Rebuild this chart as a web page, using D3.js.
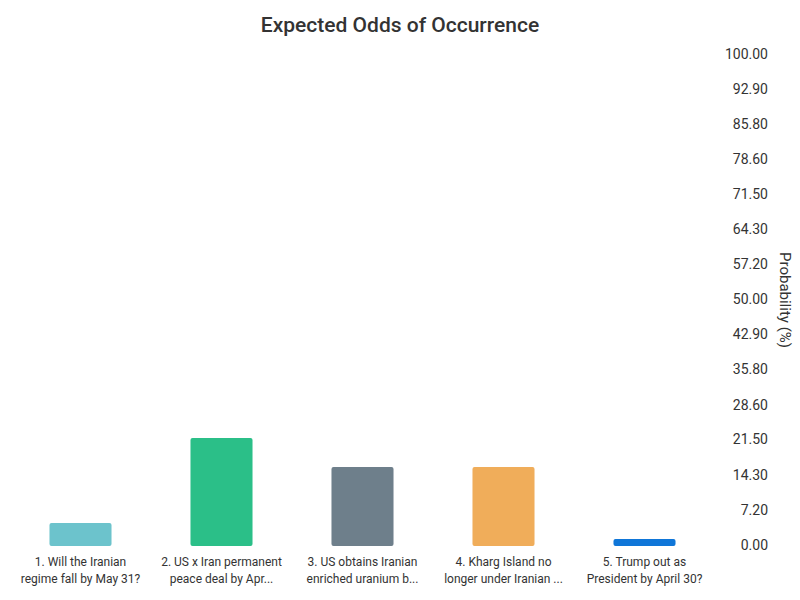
<!DOCTYPE html>
<html>
<head>
<meta charset="utf-8">
<style>
  body { margin: 0; background: #fff; font-family: Roboto, sans-serif; }
  .y .domain, .y .tick line { display: none; }
  .y .tick text { font-size: 14px; fill: #333; font-family: Roboto; }
</style>
</head>
<body>
<svg width="800" height="600"></svg>
<script src="https://d3js.org/d3.v7.min.js"></script>
<script>
const categories = [
  ["1. Will the Iranian", "regime fall by May 31?"],
  ["2. US x Iran permanent", "peace deal by Apr..."],
  ["3. US obtains Iranian", "enriched uranium b..."],
  ["4. Kharg Island no", "longer under Iranian ..."],
  ["5. Trump out as", "President by April 30?"]
];
const values = [4.5, 21.8, 15.9, 15.9, 1.2];
const colors = ["#6cc3cc", "#2bbf88", "#6e7f8b", "#f0ad5a", "#0f76d8"];
const tickValues = [0, 7.2, 14.3, 21.5, 28.6, 35.8, 42.9, 50, 57.2, 64.3, 71.5, 78.6, 85.8, 92.9, 100];

let svg = d3.select("svg");

let x = d3.scaleBand()
    .domain(d3.range(categories.length))
    .range([10, 715])
    .paddingInner(0.56)
    .paddingOuter(0.28);

let y = d3.scaleLinear()
    .domain([0, 100])
    .range([545, 54]);

svg.append("text")
    .attr("x", 400).attr("y", 32)
    .attr("text-anchor", "middle")
    .style("font-size", "21px").style("font-weight", 500).style("fill", "#333")
    .text("Expected Odds of Occurrence");

svg.selectAll(".bar")
  .data(values)
  .join("rect")
    .attr("class", "bar")
    .attr("x", (d, i) => x(i))
    .attr("width", x.bandwidth())
    .attr("y", d => y(d))
    .attr("height", d => y(0) - y(d) + 1)
    .attr("rx", 2)
    .attr("fill", (d, i) => colors[i]);

let labels = svg.selectAll(".lab")
  .data(categories)
  .join("text")
    .attr("class", "lab")
    .attr("text-anchor", "middle")
    .style("font-size", "12px").style("fill", "#333")
    .attr("transform", (d, i) => `translate(${x(i) + x.bandwidth() / 2},566)`);
labels.selectAll("tspan")
  .data(d => d)
  .join("tspan")
    .attr("x", 0)
    .attr("dy", (d, i) => i ? 17 : 0)
    .text(d => d);

svg.append("g")
    .attr("class", "y")
    .attr("transform", "translate(768,0)")
    .call(d3.axisLeft(y).tickValues(tickValues).tickSize(0).tickPadding(0).tickFormat(d3.format(".2f")));

svg.append("text")
    .attr("transform", "translate(780,300) rotate(90)")
    .attr("text-anchor", "middle")
    .style("font-size", "15px").style("fill", "#333")
    .text("Probability (%)");
</script>
</body>
</html>
